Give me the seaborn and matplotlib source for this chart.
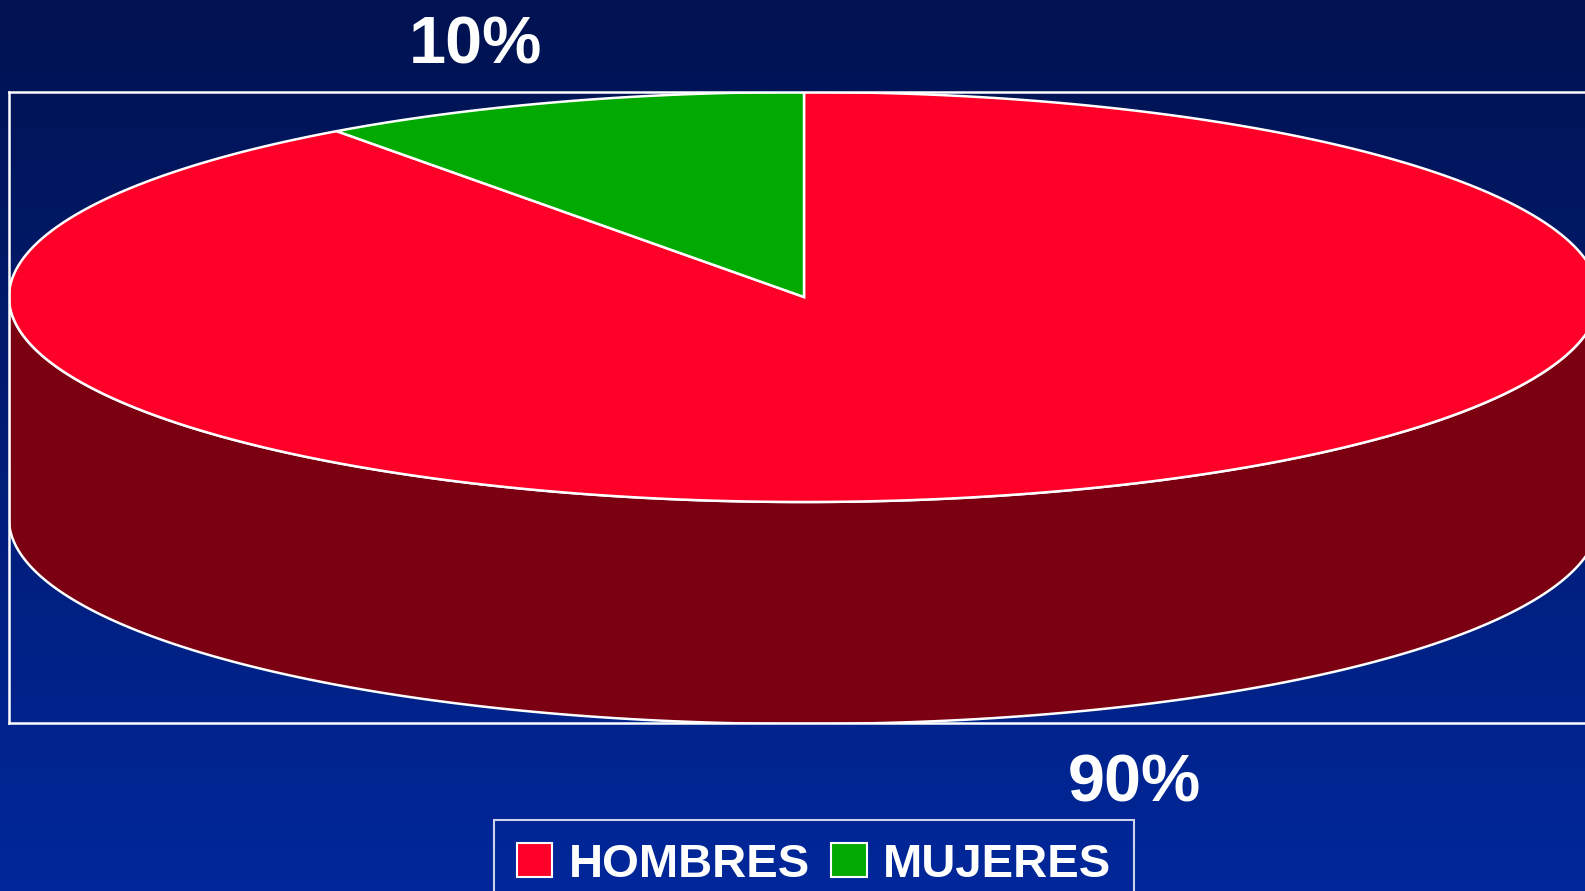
import numpy as np
import matplotlib
matplotlib.use("Agg")
import matplotlib.pyplot as plt
from matplotlib.patches import Polygon, Patch
import seaborn as sns

# Data
categories = ['HOMBRES', 'MUJERES']
values = [90, 10]
pct_labels = ['90%', '10%']
colors = ['#FF0028', '#00AA00']
side_color = '#7A0012'

sns.set_theme(style="white")
plt.rcParams['font.family'] = ['Liberation Sans', 'DejaVu Sans']

W, H = 1585, 891
fig = plt.figure(figsize=(W / 100, H / 100), dpi=100)

# background gradient
bg = fig.add_axes([0, 0, 1, 1], zorder=-5)
grad = np.linspace(0, 1, 256).reshape(-1, 1)
cmap = matplotlib.colors.LinearSegmentedColormap.from_list('bg', ['#011250', '#00279A'])
bg.imshow(grad, aspect='auto', cmap=cmap, extent=[0, 1, 0, 1], origin='upper')
bg.set_axis_off()

# plot area box (pixel coordinates)
x0, x1, y0, y1 = 9, 1592, 92, 723
ax = fig.add_axes([x0 / W, 1 - y1 / H, (x1 - x0) / W, (y1 - y0) / H])
ax.set_xlim(x0, x1)
ax.set_ylim(y1, y0)
ax.set_facecolor('none')
ax.set_xticks([])
ax.set_yticks([])
for s in ax.spines.values():
    s.set_color('white')
    s.set_linewidth(1.8)

# 3D pie geometry
cx, cy, a, b, depth = 804, 297, 795, 205, 222


def pt(t, dy=0):
    t = np.radians(t)
    return np.column_stack([cx + a * np.cos(t), cy - b * np.sin(t) + dy])


# side of the pie (front half)
t = np.linspace(180, 360, 300)
side = np.vstack([pt(t), pt(t[::-1], depth)])
ax.add_patch(Polygon(side, closed=True, facecolor=side_color, edgecolor='white', lw=1.8, zorder=1))

# top face wedges, clockwise from 12 o'clock
total = sum(values)
start = 90.0
for v, c in zip(values, colors):
    end = start - 360.0 * v / total
    tt = np.linspace(start, end, 400)
    poly = np.vstack([[cx, cy], pt(tt)])
    ax.add_patch(Polygon(poly, closed=True, facecolor=c, edgecolor='white', lw=1.8, zorder=2))
    start = end

# percentage labels
fig.text(475 / W, 1 - 46 / H, pct_labels[1], color='white', fontsize=48, fontweight='bold',
         ha='center', va='center')
fig.text(1134 / W, 1 - 785 / H, pct_labels[0], color='white', fontsize=48, fontweight='bold',
         ha='center', va='center')

handles = [Patch(facecolor=c, edgecolor='white', linewidth=1.5) for c in colors]
leg = fig.legend(handles, categories, loc='upper center', bbox_to_anchor=(814 / W, 1 - 820 / H),
                 ncol=2, frameon=True, fontsize=34, handlelength=0.75, handleheight=0.75,
                 handletextpad=0.35, columnspacing=0.45, borderpad=0.48, borderaxespad=0,
                 fancybox=False)
leg.get_frame().set_edgecolor('white')
leg.get_frame().set_facecolor('none')
leg.get_frame().set_linewidth(1.5)
for txt in leg.get_texts():
    txt.set_color('white')
    txt.set_fontweight('bold')

fig.savefig('out.png', dpi=100)
